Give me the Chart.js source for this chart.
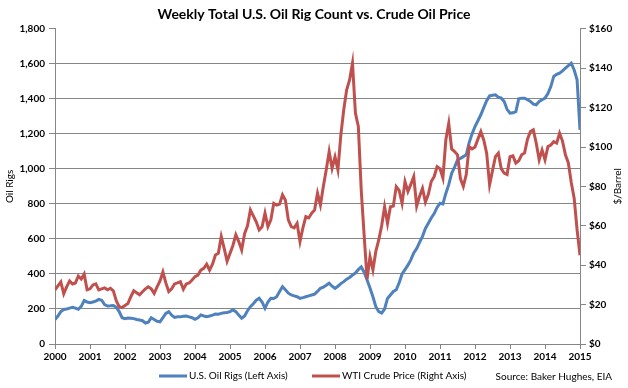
<!DOCTYPE html>
<html>
<head>
<meta charset="utf-8">
<script src="https://cdn.jsdelivr.net/npm/chart.js@4.4.1/dist/chart.umd.min.js"></script>
<style>
  html, body { margin: 0; padding: 0; background: #fff; }
</style>
</head>
<body>
<canvas id="myChart" width="628" height="388"></canvas>
<script>
// monthly readings, Jan 2000 .. Jan 2015
const rigCount = [
  140, 160, 185, 197, 200, 205, 210, 205, 198, 215, 248, 240,      // 2000
  236, 240, 245, 255, 250, 225, 217, 218, 220, 210, 185, 150,      // 2001
  145, 148, 147, 145, 140, 137, 133, 120, 125, 150, 140, 130,      // 2002
  127, 150, 175, 185, 165, 152, 155, 155, 158, 160, 155, 150,      // 2003
  141, 150, 166, 160, 156, 160, 165, 171, 170, 175, 178, 180,      // 2004
  185, 195, 185, 165, 147, 160, 190, 213, 230, 250, 261, 240,      // 2005
  204, 240, 261, 260, 270, 300, 327, 310, 290, 280, 275, 270,      // 2006
  261, 265, 270, 275, 280, 285, 300, 318, 325, 335, 347, 330,      // 2007
  318, 330, 345, 356, 370, 380, 394, 405, 425, 440, 410, 366,      // 2008
  320, 270, 213, 185, 177, 200, 260, 280, 300, 310, 350, 400,      // 2009
  425, 450, 480, 520, 545, 580, 615, 660, 690, 720, 745, 780,      // 2010
  804, 800, 860, 910, 975, 1010, 1051, 1060, 1070, 1080, 1150, 1200, // 2011
  1242, 1275, 1309, 1350, 1390, 1417, 1420, 1423, 1410, 1404, 1385, 1340, // 2012
  1318, 1320, 1327, 1400, 1404, 1404, 1395, 1385, 1370, 1366, 1385, 1395, // 2013
  1404, 1430, 1470, 1528, 1540, 1547, 1560, 1575, 1590, 1604, 1565, 1509, // 2014
  1223                                                             // 2015
]

const wtiPrice = [
  27.5, 29.5, 31.5, 25.5, 29, 32, 30.5, 31, 34.5, 33, 35.5, 27.5,          // 2000
  28, 30, 30.5, 27.5, 28, 28.5, 27.5, 28.3, 27, 22, 19, 18.5,              // 2001
  19.5, 20.5, 24, 27, 26, 25, 26.5, 28, 29, 28, 25.7, 29,                  // 2002
  32, 36.5, 31, 26.6, 28, 30.5, 31, 31.6, 27.8, 30.5, 31, 32.5,            // 2003
  34.2, 35, 37.5, 38.4, 40.5, 37.5, 40.5, 45.2, 46, 54.5, 48.5, 42,        // 2004
  46, 50, 55.4, 52, 47.7, 56, 60, 68, 65, 62, 57.9, 59.5,                  // 2005
  66.4, 59.6, 63, 71.4, 70.5, 71, 75.7, 73, 63, 59.6, 59, 61.3,            // 2006
  52, 59, 64.7, 64, 66.4, 68, 76.5, 70.6, 80, 88.4, 97.7, 89.2,            // 2007
  95, 88.4, 106, 118.9, 129, 134, 142.6, 117.2, 110.4, 78, 55, 33,         // 2008
  44.3, 37.6, 47, 52.8, 60, 69.7, 61.3, 69.7, 70, 79.9, 78, 71.4,          // 2009
  82.4, 77.4, 81, 85, 70, 75, 79, 72, 76, 82.5, 85, 90,                    // 2010
  89, 84.2, 103.6, 112, 99, 97.7, 96, 84, 80, 86, 100.2, 99,               // 2011
  100, 104, 107.8, 103.6, 96.9, 80.8, 88, 95.1, 96.9, 89, 86.7, 86,        // 2012
  95.1, 95.5, 91.8, 93, 96, 97, 104, 107.8, 108.7, 101.9, 93.5, 98.5,      // 2013
  93.5, 100.2, 101, 102.7, 102, 107, 103, 96, 92, 82, 74, 58,              // 2014
  45                                                                       // 2015
]

const firstYear = 2000
const lastYear = 2015
const months = rigCount.map((_, i) => firstYear + i / 12)

const seriesNames = ['U.S. Oil Rigs (Left Axis)', 'WTI Crude Price (Right Axis)']
const sourceNote = 'Source: Baker Hughes, EIA'

const blue = '#4F81BD'
const red = '#C0504D'
const gridGray = '#868686'

Chart.defaults.font.family = 'Lato, "Liberation Sans", sans-serif'
Chart.defaults.color = '#000'

// legend, source note and axis titles
const extras = {
  id: 'extras',
  afterDraw(chart) {
    const c = chart.ctx
    const area = chart.chartArea
    c.save()
    c.font = '10px Lato, "Liberation Sans", sans-serif'
    c.fillStyle = '#000'
    c.textBaseline = 'middle'

    const ly = 376
    const items = [
      { x: 159, color: blue, text: seriesNames[0] },
      { x: 312, color: red, text: seriesNames[1] }
    ]
    items.forEach(it => {
      c.strokeStyle = it.color
      c.lineWidth = 3
      c.beginPath()
      c.moveTo(it.x, ly)
      c.lineTo(it.x + 28, ly)
      c.stroke()
      c.textAlign = 'left'
      c.fillText(it.text, it.x + 30, ly)
    })

    c.textAlign = 'right'
    c.fillText(sourceNote, 612, ly + 1)

    const midY = (area.top + area.bottom) / 2
    c.textAlign = 'center'
    c.translate(10, midY)
    c.rotate(-Math.PI / 2)
    c.fillText('Oil Rigs', 0, 0)
    c.rotate(Math.PI / 2)
    c.translate(608, 0)
    c.rotate(-Math.PI / 2)
    c.fillText('$/Barrel', 0, 0)
    c.restore()
  }
}

const ctx = document.getElementById('myChart')
const myChart = new Chart(ctx, {
  type: 'line',
  data: {
    datasets: [
      {
        label: seriesNames[0],
        data: months.map((x, i) => ({ x, y: rigCount[i] })),
        yAxisID: 'yRigs',
        borderColor: blue,
        backgroundColor: blue,
        borderWidth: 3,
        pointRadius: 0,
        tension: 0,
        order: 1
      },
      {
        label: seriesNames[1],
        data: months.map((x, i) => ({ x, y: wtiPrice[i] })),
        yAxisID: 'yPrice',
        borderColor: red,
        backgroundColor: red,
        borderWidth: 3,
        pointRadius: 0,
        tension: 0,
        order: 0
      }
    ]
  },
  options: {
    responsive: false,
    animation: false,
    layout: { padding: 0 },
    plugins: {
      legend: { display: false },
      tooltip: { enabled: false },
      title: {
        display: true,
        text: 'Weekly Total U.S. Oil Rig Count vs. Crude Oil Price',
        font: { size: 14, weight: 'bold' },
        color: '#000',
        padding: { top: 6, bottom: 6 }
      }
    },
    scales: {
      x: {
        type: 'linear',
        min: firstYear,
        max: lastYear,
        ticks: {
          stepSize: 1,
          autoSkip: false,
          maxRotation: 0,
          padding: 2,
          font: { size: 10, weight: 'bold' },
          callback: v => String(v)
        },
        grid: { drawOnChartArea: false, tickLength: 5, color: gridGray },
        border: { color: gridGray },
        afterFit: s => { s.height = 44 }
      },
      yRigs: {
        position: 'left',
        min: 0,
        max: 1800,
        ticks: {
          stepSize: 200,
          padding: 4,
          font: { size: 10, weight: 'bold' },
          callback: v => v.toLocaleString('en-US')
        },
        grid: {
          color: c => (c.tick && c.tick.value === 1800 ? 'rgba(0,0,0,0)' : gridGray),
          tickColor: gridGray,
          tickLength: 6
        },
        border: { color: gridGray },
        afterFit: s => { s.width = 55 }
      },
      yPrice: {
        position: 'right',
        min: 0,
        max: 160,
        ticks: {
          stepSize: 20,
          padding: 3,
          font: { size: 10, weight: 'bold' },
          callback: v => '$' + v
        },
        grid: { drawOnChartArea: false, tickLength: 6, color: gridGray },
        border: { color: gridGray },
        afterFit: s => { s.width = 48 }
      }
    }
  },
  plugins: [extras]
})
</script>
</body>
</html>
